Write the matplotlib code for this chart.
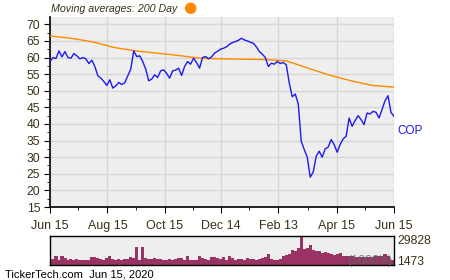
import numpy as np
import pandas as pd
import matplotlib
matplotlib.use("Agg")
import matplotlib.pyplot as plt

plt.rcParams['font.family'] = ['Liberation Sans', 'DejaVu Sans']

# COP closing price, sampled roughly every 3 days Jun 15 2019 -> Jun 15 2020
price = [58.8, 60.0, 59.7, 62.0, 60.2, 61.8, 60.0, 59.8, 61.2, 60.5,
         59.6, 60.0, 59.6, 58.2, 59.2, 57.3, 54.5, 53.8, 52.8, 51.6,
         53.3, 50.8, 51.5, 52.5, 51.9, 52.4, 54.5, 56.5, 62.0, 60.3,
         60.5, 58.8, 56.5, 53.0, 53.5, 54.8, 54.0, 56.0, 56.3, 55.2,
         53.8, 56.0, 56.2, 56.8, 54.6, 57.3, 58.8, 58.0, 59.8, 58.5,
         56.8, 60.0, 60.3, 59.6, 60.2, 61.3, 61.9, 62.5, 62.8, 63.2,
         64.0, 64.5, 64.8, 65.2, 65.8, 65.3, 65.0, 64.6, 64.3, 63.2,
         61.8, 61.0, 60.0, 57.3, 58.3, 58.0, 58.8, 58.2, 58.5, 57.8,
         52.3, 48.2, 49.0, 46.0, 34.8, 32.3, 30.0, 24.0, 25.5, 30.3,
         31.8, 30.0, 32.5, 33.0, 35.3, 33.8, 31.5, 33.8, 35.5, 36.3,
         41.8, 39.3, 41.0, 42.5, 41.3, 39.8, 43.3, 43.0, 43.8, 43.5,
         41.8, 44.3, 47.0, 48.5, 43.5, 42.3]

# 200 day moving average
ma200 = [66.5, 65.8, 64.7, 63.0, 62.0, 61.3, 60.6, 59.8, 59.6, 59.5,
         59.4, 59.0, 56.8, 54.7, 53.0, 51.6, 51.1]

# volume in thousands, same sampling as price
volume = [8.0, 8.0, 10.6, 6.4, 10.3, 8.6, 6.4, 8.0, 7.3, 8.0,
          7.3, 6.4, 7.3, 6.4, 9.3, 9.3, 8.6, 8.0, 7.3, 8.6,
          10.6, 8.0, 7.3, 8.0, 6.4, 8.0, 8.0, 9.6, 8.6, 19.4,
          7.3, 19.4, 8.6, 8.0, 8.0, 8.6, 8.0, 8.0, 6.4, 7.3,
          8.0, 6.4, 8.0, 9.0, 8.6, 6.4, 10.6, 6.4, 7.3, 6.4,
          11.2, 8.6, 8.0, 6.4, 9.6, 9.3, 8.6, 8.0, 9.6, 6.4,
          11.2, 8.6, 6.4, 8.0, 8.0, 7.3, 8.6, 8.0, 8.0, 7.3,
          8.0, 8.6, 9.6, 12.9, 8.0, 7.3, 6.4, 8.0, 11.2, 11.9,
          12.9, 17.1, 15.2, 18.4, 29.8, 17.8, 18.4, 21.7, 17.1, 15.2,
          16.1, 13.5, 14.5, 13.5, 12.5, 11.9, 12.9, 13.9, 11.2, 11.2,
          10.6, 10.6, 10.0, 9.6, 9.3, 9.6, 9.3, 9.6, 9.3, 10.6,
          10.6, 10.3, 12.9, 10.6, 6.4, 6.4]

start, end = pd.Timestamp("2019-06-15"), pd.Timestamp("2020-06-15")
dates = pd.date_range(start, end, periods=len(price))
ma_dates = pd.date_range(start, end, periods=len(ma200))

xticks = pd.to_datetime(["2019-06-15", "2019-08-15", "2019-10-15", "2019-12-14",
                         "2020-02-13", "2020-04-15", "2020-06-15"])
xlabels = ["Jun 15", "Aug 15", "Oct 15", "Dec 14", "Feb 13", "Apr 15", "Jun 15"]
xminor = pd.to_datetime(["2019-07-15", "2019-09-15", "2019-11-14", "2020-01-13",
                         "2020-03-15", "2020-05-15"])

txt = "#3b3015"
fig = plt.figure(figsize=(4.5, 2.8), dpi=100)

ax = fig.add_axes([0.1111, 0.2607, 0.7644, 0.6797])
ax.set_facecolor("#eeeeee")
ax.plot(ma_dates, ma200, color="#ff8800", lw=1.0, zorder=3)
ax.plot(dates, price, color="#1a1aee", lw=1.0, zorder=4)
ax.set_xlim(start, end)
ax.set_ylim(15, 72.3)
ax.set_yticks(np.arange(15, 71, 5))
ax.set_yticks(np.arange(17.5, 71, 5), minor=True)
ax.set_xticks(xticks)
ax.set_xticklabels(xlabels)
ax.set_xticks(xminor, minor=True)
ax.grid(True, which="major", color="#d6d6d6", lw=1.0)
ax.set_axisbelow(True)
for s in ["top", "right"]:
    ax.spines[s].set_visible(False)
for s in ["left", "bottom"]:
    ax.spines[s].set_color("black")
    ax.spines[s].set_linewidth(1.2)
ax.axvline(end, color="#d6d6d6", lw=1.0, zorder=0)
ax.tick_params(axis="both", which="both", direction="out", colors="black",
               labelcolor=txt)
ax.tick_params(axis="x", labelsize=9, pad=5)
ax.tick_params(axis="y", labelsize=8.7, pad=3)
ax.tick_params(axis="both", which="major", length=4)
ax.tick_params(axis="both", which="minor", length=2.5)
ax.text(1.01, 0.40, "COP", transform=ax.transAxes, color="#1a1aee",
        fontsize=8.5, va="center", ha="left")

fig.text(0.113, 0.967, "Moving averages: 200 Day", fontsize=7.7, style="italic",
         color=txt, va="center", ha="left")
fig.text(0.422, 0.972, "\u25cf", fontsize=11, color="#ff8800", va="center",
         ha="center", family="DejaVu Sans")

# volume panel
vax = fig.add_axes([0.1111, 0.0518, 0.7644, 0.1036])
vax.set_facecolor("#eeeeee")
vax.bar(dates, volume, width=3.3, color="#993366", linewidth=0)
vax.set_xlim(start, end)
vax.set_ylim(1.473, 29.828)
vax.set_xticks([])
vax.set_yticks([])
for s in vax.spines.values():
    s.set_color("black")
    s.set_linewidth(1.0)
vax.text(1.01, 0.83, "29828", transform=vax.transAxes, fontsize=8.7, color=txt,
         va="center", ha="left")
vax.text(1.01, 0.12, "1473", transform=vax.transAxes, fontsize=8.7, color=txt,
         va="center", ha="left")
vax.text(0.995, 0.17, "(1000's)", transform=vax.transAxes, fontsize=9,
         color="#4f6f5f", alpha=0.8, va="center", ha="right")

fig.text(0.011, 0.018, "TickerTech.com  Jun 15, 2020", fontsize=8, color="black",
         va="center", ha="left")

fig.savefig("out.png", dpi=100)
